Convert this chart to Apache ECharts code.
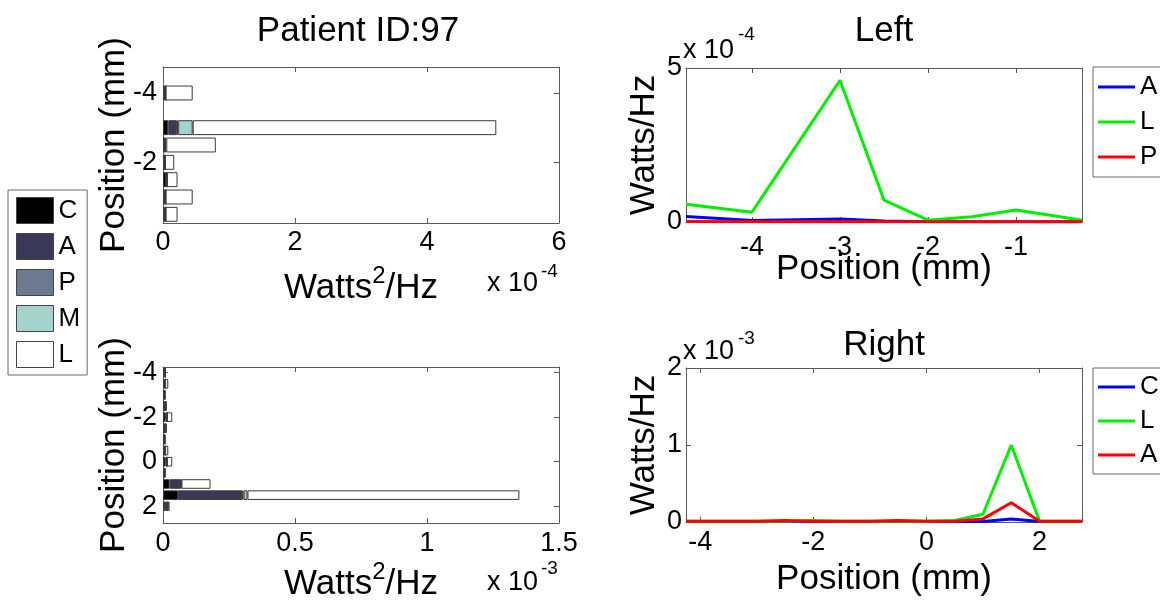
<!DOCTYPE html>
<html>
<head>
<meta charset="utf-8">
<script src="https://cdn.jsdelivr.net/npm/echarts@6/dist/echarts.min.js"></script>
<style>
  html, body { margin: 0; padding: 0; background: #ffffff; }
  #chart { width: 1160px; height: 606px; }
</style>
</head>
<body>
<div id="chart"></div>
<script>
// ---- Stacked power per position, left side (units of 1e-4 W^2/Hz) ----
const leftRows = ['-4.5', '-4', '-3.5', '-3', '-2.5', '-2', '-1.5', '-1', '-0.5'];
const leftRowTicks = ['-4', '-2'];
const leftC = [null, 0.03, null, 0.08, 0.02, 0.02, 0.05, 0.03, 0.03];
const leftA = [null, 0.01, null, 0.13, 0.01, 0.01, 0.01, 0.01, 0.01];
const leftP = [null, 0.00, null, 0.02, 0.00, 0.00, 0.00, 0.00, 0.00];
const leftM = [null, 0.00, null, 0.22, 0.02, 0.00, 0.00, 0.00, 0.00];
const leftL = [null, 0.41, null, 4.60, 0.75, 0.14, 0.16, 0.41, 0.18];
const leftPowerTicks = [0, 2, 4, 6];

// ---- Stacked power per position, right side (units of 1e-3 W^2/Hz) ----
const rightRows = ['-4', '-3.5', '-3', '-2.5', '-2', '-1.5', '-1', '-0.5', '0', '0.5', '1', '1.5', '2', '2.5'];
const rightRowTicks = ['-4', '-2', '0', '2'];
const rightC = [0.005, 0.005, 0.004, 0.005, 0.010, 0.005, 0.004, 0.005, 0.010, 0.004, 0.025, 0.057, 0.008, null];
const rightA = [0.003, 0.003, 0.002, 0.003, 0.005, 0.003, 0.002, 0.003, 0.005, 0.002, 0.040, 0.243, 0.006, null];
const rightP = [0.000, 0.000, 0.000, 0.000, 0.000, 0.000, 0.000, 0.000, 0.000, 0.000, 0.002, 0.005, 0.002, null];
const rightM = [0.000, 0.000, 0.000, 0.000, 0.000, 0.000, 0.000, 0.000, 0.000, 0.000, 0.003, 0.015, 0.002, null];
const rightL = [0.002, 0.012, 0.004, 0.007, 0.020, 0.007, 0.004, 0.012, 0.020, 0.004, 0.110, 1.030, 0.007, null];
const rightPowerTicks = [0, 0.5, 1, 1.5];

// ---- Spectra along the left track (units of 1e-4 W/Hz) ----
const leftLinePos = [-4.75, -4, -3, -2.5, -2, -1.5, -1, -0.5, -0.25];
const leftLineA = [0.18, 0.05, 0.10, 0.03, 0.01, 0.01, 0.01, 0.01, 0.01];
const leftLineL = [0.58, 0.32, 4.60, 0.71, 0.06, 0.17, 0.39, 0.17, 0.06];
const leftLineP = [0.02, 0.01, 0.02, 0.01, 0.01, 0.01, 0.01, 0.01, 0.01];
const leftPosTicks = [-4, -3, -2, -1];
const leftWattTicks = [0, 5];

// ---- Spectra along the right track (units of 1e-3 W/Hz) ----
const rightLinePos = [-4.25, -4, -3.5, -3, -2.5, -2, -1.5, -1, -0.5, 0, 0.5, 1, 1.5, 2, 2.5, 2.75];
const rightLineC = [0.005, 0.005, 0.005, 0.005, 0.005, 0.005, 0.005, 0.005, 0.005, 0.005, 0.005, 0.005, 0.04, 0.005, 0.005, 0.005];
const rightLineL = [0.01, 0.01, 0.01, 0.01, 0.01, 0.02, 0.01, 0.01, 0.01, 0.01, 0.02, 0.10, 1.00, 0.01, 0.01, 0.01];
const rightLineA = [0.01, 0.01, 0.01, 0.01, 0.02, 0.01, 0.01, 0.01, 0.02, 0.01, 0.01, 0.04, 0.25, 0.01, 0.01, 0.01];
const rightPosTicks = [-4, -2, 0, 2];
const rightWattTicks = [0, 1, 2];

const partNames = ['C', 'A', 'P', 'M', 'L'];
const partColors = ['#000000', '#3a3858', '#6c7990', '#a6d2cd', '#ffffff'];
const leftStack = [leftC, leftA, leftP, leftM, leftL];
const rightStack = [rightC, rightA, rightP, rightM, rightL];

const FONT = '"Liberation Sans", Arial, sans-serif';
const FRAME = '#5a5a5a';
const TICK_FS = 27;
const NAME_FS = 35;

const chart = echarts.init(document.getElementById('chart'), null, { renderer: 'canvas' });

const grids = [
  { left: 163, top: 67, width: 396, height: 156 },
  { left: 163, top: 367, width: 396, height: 156 },
  { left: 686, top: 68, width: 396, height: 154 },
  { left: 686, top: 368, width: 396, height: 154 }
].map(g => Object.assign({ outerBoundsMode: 'none', containLabel: false }, g));

function line() { return { show: true, onZero: false, lineStyle: { color: FRAME, width: 1 } }; }
function label(show, margin) {
  return { show: show, color: '#000', fontFamily: FONT, fontSize: TICK_FS, margin: margin || 6 };
}

// value axis with fixed ticks
function valueAxis(gridIndex, position, min, max, ticks, show, margin, extra) {
  const lab = label(show, margin);
  lab.customValues = ticks;
  return Object.assign({
    type: 'value', gridIndex, position, min, max,
    axisLine: line(),
    axisTick: { show: true, inside: true, length: 5, customValues: ticks, lineStyle: { color: FRAME } },
    axisLabel: lab,
    splitLine: { show: false }
  }, extra || {});
}

// category axis of positions (top row first), labelled at a few positions
function rowAxis(gridIndex, position, rows, ticks, show, extra) {
  const pick = (i, v) => ticks.indexOf(v) >= 0;
  const lab = label(show, 6);
  lab.interval = pick;
  return Object.assign({
    type: 'category', gridIndex, position, data: rows, inverse: true,
    axisLine: line(),
    axisTick: { show: true, inside: true, length: 5, alignWithLabel: true, interval: pick, lineStyle: { color: FRAME } },
    axisLabel: lab,
    splitLine: { show: false }
  }, extra || {});
}

const nameStyle = { color: '#000', fontFamily: FONT, fontSize: NAME_FS };
const powerName = {
  name: '{a|Watts}{s|2}{a|/Hz}',
  nameLocation: 'middle',
  nameMoveOverlap: false,
  nameTextStyle: {
    color: '#000', fontFamily: FONT, fontSize: NAME_FS,
    rich: {
      a: { color: '#000', fontFamily: FONT, fontSize: NAME_FS, lineHeight: 42, verticalAlign: 'bottom' },
      s: { color: '#000', fontFamily: FONT, fontSize: 24, lineHeight: 24, verticalAlign: 'top' }
    }
  }
};
function named(text, gap) {
  return { name: text, nameLocation: 'middle', nameGap: gap, nameMoveOverlap: false, nameTextStyle: nameStyle };
}

const xAxes = [
  valueAxis(0, 'bottom', 0, 6, leftPowerTicks, true, 6, Object.assign({}, powerName, { nameGap: 41 })),
  valueAxis(0, 'top', 0, 6, leftPowerTicks, false),
  valueAxis(1, 'bottom', 0, 1.5, rightPowerTicks, true, 7, Object.assign({}, powerName, { nameGap: 37 })),
  valueAxis(1, 'top', 0, 1.5, rightPowerTicks, false),
  valueAxis(2, 'bottom', -4.75, -0.25, leftPosTicks, true, 12, named('Position (mm)', 30)),
  valueAxis(2, 'top', -4.75, -0.25, leftPosTicks, false),
  valueAxis(3, 'bottom', -4.25, 2.75, rightPosTicks, true, 7, named('Position (mm)', 40)),
  valueAxis(3, 'top', -4.25, 2.75, rightPosTicks, false)
];

const yAxes = [
  rowAxis(0, 'left', leftRows, leftRowTicks, true, named('Position (mm)', 31)),
  rowAxis(0, 'right', leftRows, leftRowTicks, false),
  rowAxis(1, 'left', rightRows, rightRowTicks, true, named('Position (mm)', 31)),
  rowAxis(1, 'right', rightRows, rightRowTicks, false),
  valueAxis(2, 'left', 0, 5, leftWattTicks, true, 4, named('Watts/Hz', 24)),
  valueAxis(2, 'right', 0, 5, leftWattTicks, false),
  valueAxis(3, 'left', 0, 2, rightWattTicks, true, 4, named('Watts/Hz', 24)),
  valueAxis(3, 'right', 0, 2, rightWattTicks, false)
];

const series = [];
partNames.forEach((nm, i) => {
  const style = { color: partColors[i], borderColor: '#3a3a3a', borderWidth: 1 };
  series.push({ type: 'bar', name: nm, xAxisIndex: 0, yAxisIndex: 0, stack: 'left',
    barCategoryGap: '14%', data: leftStack[i], itemStyle: style, silent: true });
  series.push({ type: 'bar', name: nm, xAxisIndex: 2, yAxisIndex: 2, stack: 'right',
    barCategoryGap: '14%', data: rightStack[i], itemStyle: style, silent: true });
});

function pairs(xs, ys) { return xs.map((x, i) => [x, ys[i]]); }
function trace(name, color, xi, xs, ys) {
  return { type: 'line', name, xAxisIndex: xi, yAxisIndex: xi, data: pairs(xs, ys),
    symbol: 'none', clip: true, silent: true,
    itemStyle: { color }, lineStyle: { color, width: 3 } };
}
series.push(trace('Left A', '#0000ff', 4, leftLinePos, leftLineA));
series.push(trace('Left L', '#00ee00', 4, leftLinePos, leftLineL));
series.push(trace('Left P', '#ff0000', 4, leftLinePos, leftLineP));
series.push(trace('Right C', '#0000ff', 6, rightLinePos, rightLineC));
series.push(trace('Right L', '#00ee00', 6, rightLinePos, rightLineL));
series.push(trace('Right A', '#ff0000', 6, rightLinePos, rightLineA));

const legendText = { color: '#000', fontFamily: FONT, fontSize: 26, lineHeight: 26 };
const shortName = n => n.split(' ').pop();
const legends = [
  { data: partNames, orient: 'vertical', left: 8, top: 190, icon: 'rect',
    itemWidth: 37, itemHeight: 26, itemGap: 9, padding: [7, 7, 7, 8],
    borderColor: '#6a6a6a', borderWidth: 1, selectedMode: false,
    itemStyle: { borderColor: '#444', borderWidth: 1 }, textStyle: legendText },
  { data: ['Left A', 'Left L', 'Left P'], formatter: shortName, orient: 'vertical', left: 1093, top: 67,
    icon: 'rect', itemWidth: 37, itemHeight: 3, itemGap: 9, padding: [7, 30, 7, 5],
    borderColor: '#6a6a6a', borderWidth: 1, selectedMode: false, textStyle: legendText },
  { data: ['Right C', 'Right L', 'Right A'], formatter: shortName, orient: 'vertical', left: 1093, top: 368,
    icon: 'rect', itemWidth: 37, itemHeight: 3, itemGap: 8, padding: [6, 30, 6, 5],
    borderColor: '#6a6a6a', borderWidth: 1, selectedMode: false, textStyle: legendText }
];

function txt(x, y, text, size, align) {
  return { type: 'text', x, y, silent: true,
    style: { text, fill: '#000', font: size + 'px ' + FONT, align: align || 'left', verticalAlign: 'top' } };
}
const graphics = [
  txt(358, 14, 'Patient ID:97', NAME_FS, 'center'),
  txt(884, 14, 'Left', NAME_FS, 'center'),
  txt(884, 328, 'Right', NAME_FS, 'center'),
  // axis multipliers
  txt(683, 37, 'x 10', TICK_FS), txt(738, 25, '-4', 19),
  txt(683, 338, 'x 10', TICK_FS), txt(738, 329, '-3', 19),
  txt(487, 270, 'x 10', TICK_FS), txt(541, 262, '-4', 19),
  txt(487, 569, 'x 10', TICK_FS), txt(541, 559, '-3', 19)
];

chart.setOption({
  animation: false,
  backgroundColor: '#ffffff',
  textStyle: { fontFamily: FONT },
  grid: grids,
  xAxis: xAxes,
  yAxis: yAxes,
  legend: legends,
  graphic: graphics,
  series
});
</script>
</body>
</html>
